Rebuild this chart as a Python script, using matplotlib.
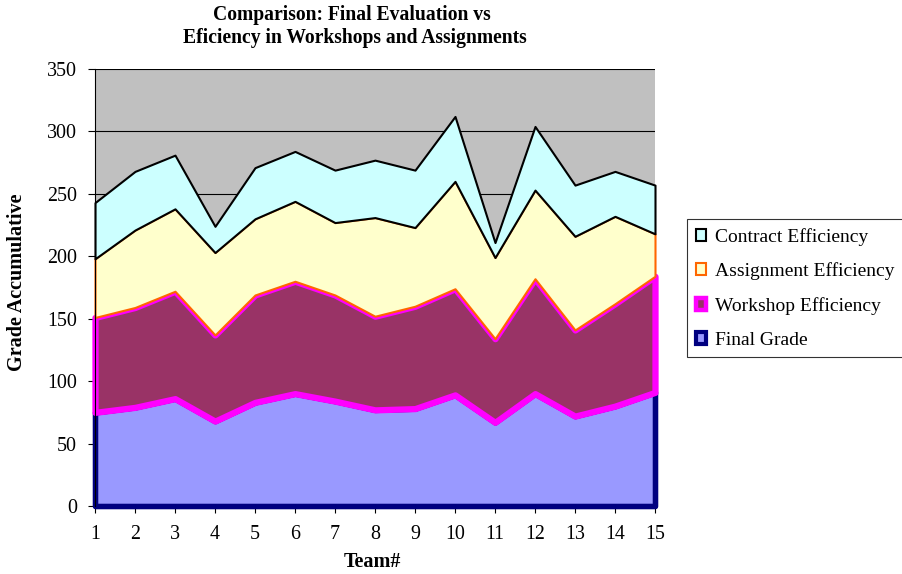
import matplotlib.pyplot as plt
import numpy as np
from matplotlib.patches import Rectangle

plt.rcParams['font.family'] = ['Liberation Serif', 'DejaVu Serif']

teams = np.arange(1, 16)
final_grade = [75, 79, 86, 68, 83, 90, 84, 77, 78, 89, 67, 90, 72, 80, 91]
workshop_top = [151, 159, 172, 137, 169, 180, 169, 152, 160, 174, 134, 182, 141, 162, 184]
assignment_top = [198, 221, 238, 203, 230, 244, 227, 231, 223, 260, 199, 253, 216, 232, 218]
contract_top = [243, 268, 281, 224, 271, 284, 269, 277, 269, 312, 211, 304, 257, 268, 257]

workshop = np.subtract(workshop_top, final_grade)
assignment = np.subtract(assignment_top, workshop_top)
contract = np.subtract(contract_top, assignment_top)

names = ['Final Grade', 'Workshop Efficiency', 'Assignment Efficiency', 'Contract Efficiency']
faces = ['#9999FF', '#993366', '#FFFFCC', '#CCFFFF']
edges = ['#000080', '#FF00FF', '#FF6600', '#000000']
widths = [4.0, 4.5, 1.5, 1.5]
legend_widths = [3.0, 3.2, 1.5, 1.5]

fig = plt.figure(figsize=(9.03, 5.74), dpi=100)
ax = fig.add_axes([95 / 903, 1 - 506 / 574, 560 / 903, 437 / 574])
ax.set_facecolor('#C0C0C0')

# stacked areas, each outlined all round like the spreadsheet original
base = np.zeros(len(teams))
for vals, face, edge, lw in zip([final_grade, workshop, assignment, contract], faces, edges, widths):
    top = base + np.asarray(vals, dtype=float)
    ax.fill_between(teams, base, top, facecolor=face, edgecolor=edge,
                    linewidth=lw, clip_on=False, zorder=2)
    base = top

ax.set_xlim(1, 15)
ax.set_ylim(0, 350)
ax.set_xticks(teams)
ax.set_yticks(np.arange(0, 351, 50))
ax.yaxis.grid(True, color='#000000', linewidth=0.8)
ax.set_axisbelow(True)
for side in ['top', 'right', 'bottom']:
    ax.spines[side].set_visible(False)
ax.spines['left'].set_linewidth(0.8)
ax.tick_params(axis='both', direction='out', length=5, width=0.8, labelsize=14.4)
ax.tick_params(axis='x', pad=9)
ax.tick_params(axis='y', pad=8)

ax.set_xlabel('Team#', fontsize=14.5, fontweight='bold')
ax.set_ylabel('Grade Accumulative', fontsize=14.5, fontweight='bold')
ax.xaxis.set_label_coords((372 - 95) / 560, -(562 - 506) / 437)
ax.yaxis.set_label_coords(-(95 - 17) / 560, (506 - 282) / 437)
ax.xaxis.label.set_va('center')
ax.yaxis.label.set_va('center')

fig.text(352 / 903, 1 - 15 / 574, 'Comparison: Final Evaluation vs', ha='center', va='center',
         fontsize=14.1, fontweight='bold')
fig.text(355 / 903, 1 - 38 / 574, 'Eficiency in Workshops and Assignments', ha='center', va='center',
         fontsize=14.1, fontweight='bold')

handles = []
for face, edge, lw in zip(faces[::-1], edges[::-1], legend_widths[::-1]):
    handles.append(Rectangle((0, 0), 1, 1, facecolor=face, edgecolor=edge, linewidth=lw))
leg = fig.legend(handles, names[::-1], loc='upper left',
                 bbox_to_anchor=(687 / 903, 1 - 219 / 574), fontsize=14.0,
                 frameon=True, fancybox=False, edgecolor='#000000',
                 handlelength=0.55, handleheight=0.55, handletextpad=0.45,
                 labelspacing=0.86, borderpad=0.45, borderaxespad=0)
leg.get_frame().set_linewidth(0.8)

fig.savefig('out.png', dpi=100)
